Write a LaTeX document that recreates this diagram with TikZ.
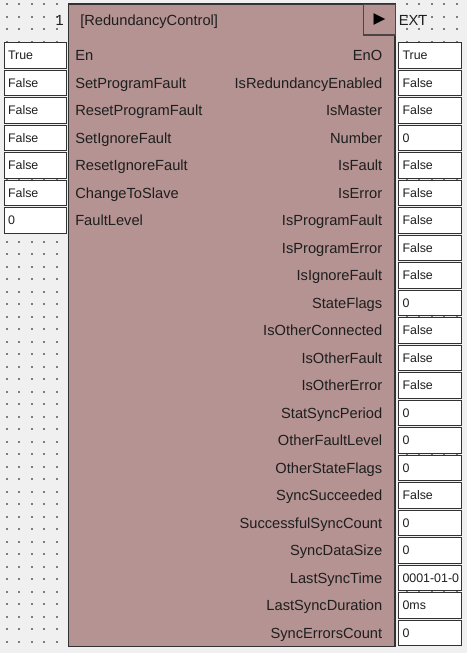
\documentclass[tikz,border=0pt]{standalone}
\usepackage{fontspec}
\setmainfont{Liberation Sans}
\newfontfamily\symfont{DejaVu Sans}
\definecolor{fbback}{RGB}{240,240,240}
\definecolor{fbbody}{RGB}{180,147,146}
\definecolor{fbedge}{RGB}{50,50,50}
\definecolor{fbdot}{RGB}{125,125,125}
\definecolor{fbtext}{RGB}{30,30,30}

\begin{document}
\begin{tikzpicture}[x=0.75pt,y=-0.75pt,
  pin/.style={font=\fontsize{11}{13}\selectfont,text=fbtext,inner sep=0pt},
  val/.style={draw=fbedge,fill=white,line width=0.8pt,anchor=west,inner xsep=3pt,
    text width=40.9pt,minimum height=19.2pt,text height=6.6pt,text depth=0pt,
    align=left,font=\fontsize{9.3}{11}\selectfont,text=fbtext},
  block/.style={draw=fbedge,fill=fbbody,line width=1.1pt,minimum width=245pt,minimum height=481.9pt,inner sep=0pt}]
  \useasboundingbox (0,0) rectangle (467,653);
  \fill[fbback] (0,0) rectangle (467,653);
  % grid
  \foreach \i in {0,...,36}
    \foreach \j in {0,...,51}
      \fill[fbdot] (5.7+12.5*\i,3.3+12.5*\j) rectangle +(2,2);
  % block
  \node[block] (fb) at (231.75,325.25) {};
  \node[draw=fbedge!80!fbbody,fill=fbbody,line width=0.8pt,minimum width=24pt,minimum height=23.2pt,inner sep=0pt,
    font=\symfont\fontsize{11.5}{13}\selectfont] (run) at (379.5,19.5) {▶};
  \node[pin,anchor=base west] (title) at (80,25.5) {[RedundancyControl]};
  \node[pin,anchor=base east] (num) at (64,25.5) {1};
  \node[pin,anchor=base west] (ext) at (398.5,26) {EXT};
  % inputs
  \foreach \lbl/\val [count=\i from 0] in {En/True,SetProgramFault/False,ResetProgramFault/False,
      SetIgnoreFault/False,ResetIgnoreFault/False,ChangeToSlave/False,FaultLevel/0}{
    \node[val] (inV\i) at (3.5,55.5+27.5*\i) {\mbox{\val}};
    \node[pin,anchor=base west] (inL\i) at (75,60.8+27.5*\i) {\lbl};
  }
  % outputs
  \foreach \lbl/\val [count=\i from 0] in {EnO/True,IsRedundancyEnabled/False,IsMaster/False,Number/0,
      IsFault/False,IsError/False,IsProgramFault/False,IsProgramError/False,IsIgnoreFault/False,
      StateFlags/0,IsOtherConnected/False,IsOtherFault/False,IsOtherError/False,StatSyncPeriod/0,
      OtherFaultLevel/0,OtherStateFlags/0,SyncSucceeded/False,SuccessfulSyncCount/0,SyncDataSize/0,
      LastSyncTime/0001-01-0,LastSyncDuration/0ms,SyncErrorsCount/0}{
    \node[val] (outV\i) at (398,55.5+27.5*\i) {\mbox{\val}};
    \node[pin,anchor=base east] (outL\i) at (382.5,60.8+27.5*\i) {\lbl};
  }
\end{tikzpicture}
\end{document}
